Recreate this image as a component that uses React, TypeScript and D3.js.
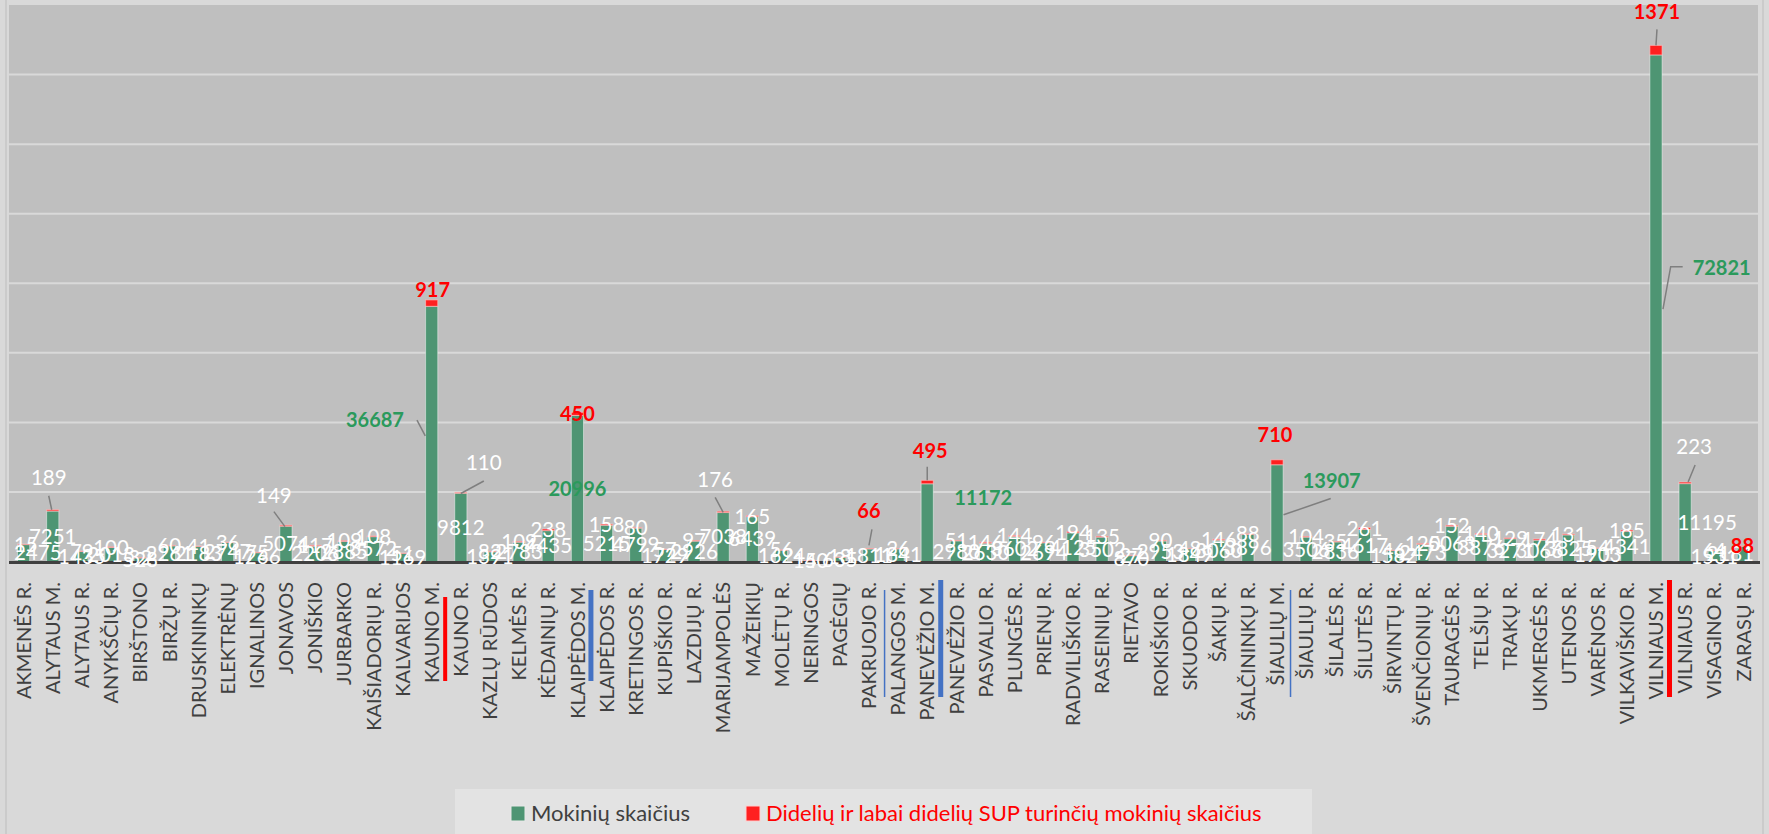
import React from 'react';
import * as d3 from 'd3';

const categories = [
  'AKMENĖS R.', 'ALYTAUS M.', 'ALYTAUS R.', 'ANYKŠČIŲ R.', 'BIRŠTONO', 'BIRŽŲ R.', 'DRUSKININKŲ', 'ELEKTRĖNŲ', 'IGNALINOS', 'JONAVOS',
  'JONIŠKIO', 'JURBARKO', 'KAIŠIADORIŲ R.', 'KALVARIJOS', 'KAUNO M.', 'KAUNO R.', 'KAZLŲ RŪDOS', 'KELMĖS R.', 'KĖDAINIŲ R.', 'KLAIPĖDOS M.',
  'KLAIPĖDOS R.', 'KRETINGOS R.', 'KUPIŠKIO R.', 'LAZDIJŲ R.', 'MARIJAMPOLĖS', 'MAŽEIKIŲ', 'MOLĖTŲ R.', 'NERINGOS', 'PAGĖGIŲ', 'PAKRUOJO R.',
  'PALANGOS M.', 'PANEVĖŽIO M.', 'PANEVĖŽIO R.', 'PASVALIO R.', 'PLUNGĖS R.', 'PRIENŲ R.', 'RADVILIŠKIO R.', 'RASEINIŲ R.', 'RIETAVO', 'ROKIŠKIO R.',
  'SKUODO R.', 'ŠAKIŲ R.', 'ŠALČININKŲ R.', 'ŠIAULIŲ M.', 'ŠIAULIŲ R.', 'ŠILALĖS R.', 'ŠILUTĖS R.', 'ŠIRVINTŲ R.', 'ŠVENČIONIŲ R.', 'TAURAGĖS R.',
  'TELŠIŲ R.', 'TRAKŲ R.', 'UKMERGĖS R.', 'UTENOS R.', 'VARĖNOS R.', 'VILKAVIŠKIO R.', 'VILNIAUS M.', 'VILNIAUS R.', 'VISAGINO R.', 'ZARASŲ R.',
];

const students = [
  2475, 7251, 1435, 2013, 528, 2261, 2183, 2747, 1266, 5074,
  2206, 2885, 3572, 1169, 36687, 9812, 1391, 2783, 4435, 20996,
  5215, 4799, 1729, 2926, 7038, 6439, 1624, 140, 635, 1811,
  1841, 11172, 2980, 2630, 3602, 2694, 4125, 3502, 870, 2953,
  1849, 3060, 3896, 13907, 3506, 2836, 4617, 1582, 2473, 5063,
  3876, 3271, 3066, 3825, 1903, 4341, 72821, 11195, 1531, 2181,
];

const supStudents = [
  15, 189, 79, 100, 32, 60, 41, 36, 75, 149,
  117, 109, 108, 51, 917, 110, 82, 109, 238, 450,
  158, 80, 57, 97, 176, 165, 56, 5, 18, 66,
  26, 495, 51, 146, 144, 96, 194, 135, 27, 90,
  48, 146, 88, 710, 104, 35, 261, 46, 120, 152,
  140, 129, 174, 131, 54, 185, 1371, 223, 64, 88,
];

const seriesNames = ['Mokinių skaičius', 'Didelių ir labai didelių SUP turinčių mokinių skaičius'];

// categories whose labels are highlighted
const redBoldCats = ['KAUNO M.', 'KLAIPĖDOS M.', 'PAKRUOJO R.', 'PANEVĖŽIO M.', 'ŠIAULIŲ M.', 'VILNIAUS M.', 'ZARASŲ R.'];
const greenBoldCats = ['KAUNO M.', 'KLAIPĖDOS M.', 'PANEVĖŽIO M.', 'ŠIAULIŲ M.', 'VILNIAUS M.'];

// manually moved labels (layout offsets in px)
type Move = { dx: number; dy: number; leader?: number[][] };
const redMoves: Record<string, Move> = {
  'ALYTAUS M.': { dx: -4, dy: -32, leader: [[0, 18], [-1, 0]] },
  'JONAVOS': { dx: -12, dy: -30, leader: [[0, 16.5], [-1, 1.5]] },
  'KAUNO M.': { dx: 1, dy: -10 },
  'KAUNO R.': { dx: 23, dy: -29.5, leader: [[0, 18], [0, 1]] },
  'MARIJAMPOLĖS': { dx: -8, dy: -32, leader: [[0, 18], [0, 1]] },
  'PAKRUOJO R.': { dx: 0, dy: -38, leader: [[3, 19], [0, -3]] },
  'PANEVĖŽIO M.': { dx: 3, dy: -29.5, leader: [[-3, 16], [0, 0]] },
  'ŠIAULIŲ M.': { dx: -2, dy: -25 },
  'VILNIAUS M.': { dx: 1, dy: -34, leader: [[0, 18], [0, 0]] },
  'VILNIAUS R.': { dx: 9, dy: -35, leader: [[1, 18], [3, 0]] },
};
const greenMoves: Record<string, Move> = {
  'KAUNO M.': { dx: -56.7, dy: -13.7, leader: [[42, 0], [-6.4, 2]] },
  'PANEVĖŽIO M.': { dx: 56, dy: -25 },
  'ŠIAULIŲ M.': { dx: 54.7, dy: -32.6, leader: [[-1, 18], [6.5, 1.7]] },
  'VILNIAUS M.': { dx: 65.7, dy: -40.5, leader: [[-39, -1], [-51, -1], [7, 1]] },
  'VILNIAUS R.': { dx: 22, dy: 0 },
};

// marker lines under the axis
const axisMarks = [
  { cat: 'KAUNO M.', side: 1, color: '#ff0000', w: 4, top: 597, bottom: 681 },
  { cat: 'KLAIPĖDOS M.', side: 1, color: '#4472c4', w: 5, top: 590, bottom: 681 },
  { cat: 'PALANGOS M.', side: -1, color: '#4472c4', w: 1.5, top: 590, bottom: 697 },
  { cat: 'PANEVĖŽIO M.', side: 1, color: '#4472c4', w: 5, top: 580, bottom: 697 },
  { cat: 'ŠIAULIŲ M.', side: 1, color: '#4472c4', w: 1.5, top: 590, bottom: 697 },
  { cat: 'VILNIAUS M.', side: 1, color: '#ff0000', w: 5, top: 580, bottom: 697 },
];

const W = 1769;
const H = 834;
const plotLeft = 9;
const plotRight = 1758;
const plotTop = 5;
const baseY = 561.5;
const FONT = 'Lato, "Open Sans", sans-serif';
const FS = 20.5;
const FSB = 20;
const GREEN = '#4e9573';
const RED = '#ff2020';
const LABEL_GREEN = '#2b9a5c';

export default function App() {
  const x = d3.scaleBand<string>().domain(categories).range([plotLeft, plotRight]).paddingInner(0.5833).paddingOuter(0.29165);
  const y = d3.scaleLinear().domain([0, 80000]).range([baseY, plotTop]);
  const bw = x.bandwidth();
  const cx = (c: string) => (x(c) as number) + bw / 2;
  const grid = y.ticks(8).filter((v) => v > 0 && v < 80000);

  const clampX = (px: number, text: string, bold: boolean) => {
    const w = text.length * 0.58 * (bold ? FSB : FS);
    return Math.max(plotLeft + 5 + w / 2, Math.min(plotRight - 4 - w / 2, px));
  };

  const greenLabels: React.ReactNode[] = [];
  const redLabels: React.ReactNode[] = [];
  const leaders: React.ReactNode[] = [];

  categories.forEach((c, i) => {
    const g = students[i];
    const r = supStudents[i];
    const xc = cx(c);
    {
      const bold = greenBoldCats.includes(c);
      const mv = greenMoves[c];
      const ax = xc;
      const ay = y(g / 2);
      let lx = ax + (mv ? mv.dx : 0);
      const ly = ay + (mv ? mv.dy : 0);
      const t = String(g);
      lx = clampX(lx, t, bold);
      if (mv && mv.leader) {
        const pts = mv.leader.map((p, k) => (k === mv.leader!.length - 1 ? [ax + p[0], ay + p[1]] : [lx + p[0], ly + p[1]]));
        leaders.push(<path key={'gl' + i} d={d3.line()(pts as [number, number][]) || ''} fill="none" stroke="#7f7f7f" strokeWidth={1.5} />);
      }
      greenLabels.push(
        <text key={'g' + i} x={lx} y={ly} dy="0.36em" textAnchor="middle" fontFamily={FONT}
          fontSize={bold ? FSB : FS} fontWeight={bold ? 700 : 400} fill={bold ? LABEL_GREEN : '#ffffff'}>{t}</text>
      );
    }
    {
      const bold = redBoldCats.includes(c);
      const mv = redMoves[c];
      const ax = xc;
      const ay = mv ? y(g + r) : y(g + r / 2);
      let lx = ax + (mv ? mv.dx : 0);
      const ly = ay + (mv ? mv.dy : 0);
      const t = String(r);
      lx = clampX(lx, t, bold);
      if (mv && mv.leader) {
        const pts = mv.leader.map((p, k) => (k === mv.leader!.length - 1 ? [ax + p[0], ay + p[1]] : [lx + p[0], ly + p[1]]));
        leaders.push(<path key={'rl' + i} d={d3.line()(pts as [number, number][]) || ''} fill="none" stroke="#7f7f7f" strokeWidth={1.5} />);
      }
      redLabels.push(
        <text key={'r' + i} x={lx} y={ly} dy="0.36em" textAnchor="middle" fontFamily={FONT}
          fontSize={bold ? FSB : FS} fontWeight={bold ? 700 : 400} fill={bold ? '#ff0000' : '#ffffff'}>{t}</text>
      );
    }
  });

  return (
    <svg width={W} height={H} style={{ position: 'absolute', left: 0, top: 0, display: 'block' }}>
      <rect x={0} y={0} width={W} height={H} fill="#d9d9d9" />
      <line x1={6} x2={6} y1={0} y2={H} stroke="#c6c6c6" strokeWidth={1.5} />
      <line x1={1763} x2={1763} y1={0} y2={H} stroke="#c6c6c6" strokeWidth={1.5} />
      <rect x={plotLeft} y={plotTop} width={plotRight - plotLeft} height={baseY - plotTop} fill="#bfbfbf" />
      {grid.map((v) => (
        <line key={v} x1={plotLeft} x2={plotRight} y1={y(v)} y2={y(v)} stroke="#d9d9d9" strokeWidth={2} />
      ))}
      {categories.map((c, i) => {
        const g = students[i];
        const r = supStudents[i];
        return (
          <g key={c}>
            <rect x={x(c)} y={y(g)} width={bw} height={baseY - y(g)} fill={GREEN} stroke="rgba(255,255,255,0.45)" strokeWidth={1} />
            <rect x={x(c)} y={y(g + r)} width={bw} height={Math.max(0.5, y(g) - y(g + r))} fill={RED} stroke="rgba(255,200,200,0.6)" strokeWidth={1} />
          </g>
        );
      })}
      <line x1={plotLeft} x2={plotRight + 2} y1={baseY + 1} y2={baseY + 1} stroke="#404040" strokeWidth={3} />
      {leaders}
      {greenLabels}
      {redLabels}
      {categories.map((c) => (
        <text key={'cat' + c} transform={`translate(${cx(c)},582) rotate(-90)`} dy="0.36em" textAnchor="end"
          fontFamily={FONT} fontSize={20} fill="#404040">{c}</text>
      ))}
      {axisMarks.map((m) => {
        const xx = cx(m.cat) + m.side * 13.5;
        return <line key={'m' + m.cat} x1={xx} x2={xx} y1={m.top} y2={m.bottom} stroke={m.color} strokeWidth={m.w} />;
      })}
      <rect x={455} y={789} width={857} height={50} fill="#e3e3e3" />
      <rect x={511} y={806} width={14} height={15} fill={GREEN} stroke="#e8e8e8" strokeWidth={1} />
      <text x={531} y={821} fontFamily={FONT} fontSize={22} fill="#404040">{seriesNames[0]}</text>
      <rect x={746} y={806} width={14} height={15} fill={RED} stroke="#ffd0d0" strokeWidth={1} />
      <text x={766} y={821} fontFamily={FONT} fontSize={22} fill="#ff0000">{seriesNames[1]}</text>
    </svg>
  );
}
